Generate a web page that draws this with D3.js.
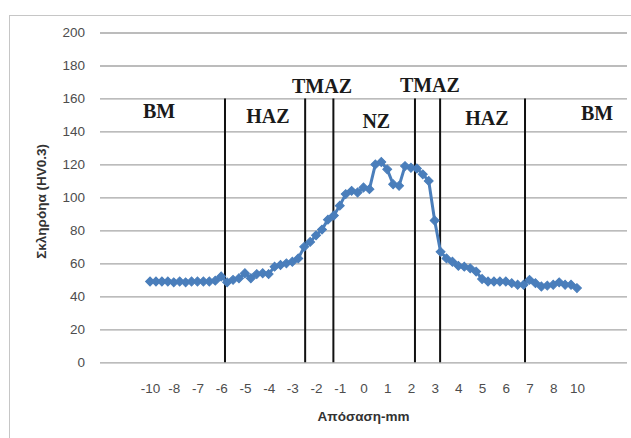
<!DOCTYPE html>
<html>
<head>
<meta charset="utf-8">
<script src="https://cdn.jsdelivr.net/npm/d3@7"></script>
<style>
  body { margin: 0; background: #fff; }
  svg { display: block; }
</style>
</head>
<body>
<svg width="631" height="438"></svg>
<script>
// distance from weld centre (mm) and hardness readings (HV0.3)
const distance = [-10, -9.5, -9, -8.5,
  -8, -7.75, -7.5, -7.25, -7, -6.75, -6.5, -6.25, -6, -5.75, -5.5, -5.25,
  -5, -4.75, -4.5, -4.25, -4, -3.75, -3.5, -3.25, -3, -2.75, -2.5, -2.25,
  -2, -1.75, -1.5, -1.25, -1, -0.75, -0.5, -0.25, 0, 0.25, 0.5, 0.75,
  1, 1.25, 1.5, 1.75, 2, 2.25, 2.5, 2.75, 3, 3.25, 3.5, 3.75,
  4, 4.25, 4.5, 4.75, 5, 5.25, 5.5, 5.75, 6, 6.25, 6.5, 6.75,
  7, 7.25, 7.5, 7.75, 8, 8.5, 9, 9.5, 10];
const hardness = [49, 49, 49, 49,
  48.5, 49, 48.5, 49, 49, 49, 49, 49.5, 52, 48.5, 50, 51,
  54, 51, 53.5, 54, 53.5, 58, 59, 60, 61, 63, 70, 73,
  77, 80.5, 86.5, 89, 95, 102, 104, 103, 106, 105, 120, 121.5,
  117, 108, 107, 119, 118, 117.5, 114, 110, 86, 67, 63, 61,
  58.5, 58, 57, 55, 50.5, 49, 49, 49, 49, 48, 47, 47,
  50, 48, 46, 46.5, 47, 48.5, 47, 47, 45];

const tickLabels = [-10, -8, -7, -6, -5, -4, -3, -2, -1, 0, 1, 2, 3, 4, 5, 6, 7, 8, 10];
const yTicks = [0, 20, 40, 60, 80, 100, 120, 140, 160, 180, 200];

// zone boundaries (mm) and zone names
const boundaries = [-5.84, -2.46, -1.27, 2.17, 3.23, 6.81];
const zoneNames = ["BM", "HAZ", "TMAZ", "NZ", "TMAZ", "HAZ", "BM"];
const zoneX = [-9.24, -4.03, -1.75, 0.54, 2.8, 5.2, 11.7];
const zoneY = [148, 145, 163.5, 142, 164, 144, 147];

const svg = d3.select("svg");
const plotLeft = 100, plotRight = 627, plotTop = 32.5, plotBottom = 362.3;

// outer chart border
svg.append("rect")
  .attr("x", 9.5).attr("y", 15.5)
  .attr("width", 640).attr("height", 440)
  .attr("fill", "none")
  .attr("stroke", "#c6c6c6");

// category-style x axis: labels evenly spaced
const slot = d3.scalePoint().domain(tickLabels).range([plotLeft, plotRight]).padding(2.11);
const x = d3.scaleLinear().domain(tickLabels).range(tickLabels.map(d => slot(d)));
const y = d3.scaleLinear().domain([0, 200]).range([plotBottom, plotTop]);

// y axis with gridlines
const yAxis = svg.append("g")
  .attr("transform", `translate(${plotLeft},0)`)
  .call(d3.axisLeft(y).tickValues(yTicks).tickSizeInner(-(plotRight - plotLeft)).tickSizeOuter(0).tickPadding(15));
yAxis.select(".domain").remove();
yAxis.selectAll("line").attr("stroke", "#a6a6a6").attr("stroke-width", 1.3);
yAxis.selectAll("text")
  .attr("font-family", "Liberation Sans, Arial, sans-serif")
  .attr("font-size", 13.5)
  .attr("fill", "#4d4d4d");

// x axis labels (plain hyphen minus, as in the original)
const xAxis = svg.append("g")
  .attr("transform", `translate(0,${plotBottom})`)
  .call(d3.axisBottom(x).tickValues(tickLabels).tickSize(0).tickPadding(21).tickFormat(d => String(d)));
xAxis.select(".domain").remove();
xAxis.selectAll("text")
  .attr("font-family", "Liberation Sans, Arial, sans-serif")
  .attr("font-size", 13.5)
  .attr("fill", "#4d4d4d");

// zone boundary lines
svg.append("g")
  .selectAll("line")
  .data(boundaries)
  .enter().append("line")
  .attr("x1", d => x(d)).attr("x2", d => x(d))
  .attr("y1", y(0)).attr("y2", y(160))
  .attr("stroke", "#111")
  .attr("stroke-width", 2);

// zone names
svg.append("g")
  .selectAll("text")
  .data(zoneNames)
  .enter().append("text")
  .attr("x", (d, i) => x(zoneX[i]))
  .attr("y", (d, i) => y(zoneY[i]))
  .attr("text-anchor", "middle")
  .attr("font-family", "Liberation Serif, Times New Roman, serif")
  .attr("font-weight", "bold")
  .attr("font-size", 20)
  .attr("fill", "#1a1a1a")
  .text(d => d);

// hardness series
const points = distance.map((d, i) => ({ d: d, h: hardness[i] }));
const line = d3.line().x(p => x(p.d)).y(p => y(p.h));
svg.append("path")
  .datum(points)
  .attr("d", line)
  .attr("fill", "none")
  .attr("stroke", "#4a7ebb")
  .attr("stroke-width", 3);

const diamond = d3.symbol(d3.symbolSquare, 40);
svg.append("g")
  .selectAll("path")
  .data(points)
  .enter().append("path")
  .attr("d", diamond)
  .attr("transform", p => `translate(${x(p.d)},${y(p.h)}) rotate(45)`)
  .attr("fill", "#4a7ebb")
  .attr("stroke", "#4a7ebb")
  .attr("stroke-width", 1);

// axis titles
svg.append("text")
  .attr("transform", `translate(46,${(plotTop + plotBottom) / 2 + 4}) rotate(-90)`)
  .attr("text-anchor", "middle")
  .attr("font-family", "Liberation Sans, Arial, sans-serif")
  .attr("font-weight", "bold")
  .attr("font-size", 13.5)
  .attr("fill", "#333")
  .text("Σκληρόηα (HV0.3)");

svg.append("text")
  .attr("x", (plotLeft + plotRight) / 2)
  .attr("y", 421)
  .attr("text-anchor", "middle")
  .attr("font-family", "Liberation Sans, Arial, sans-serif")
  .attr("font-weight", "bold")
  .attr("font-size", 13.5)
  .attr("fill", "#333")
  .text("Απόσαση-mm");
</script>
</body>
</html>
